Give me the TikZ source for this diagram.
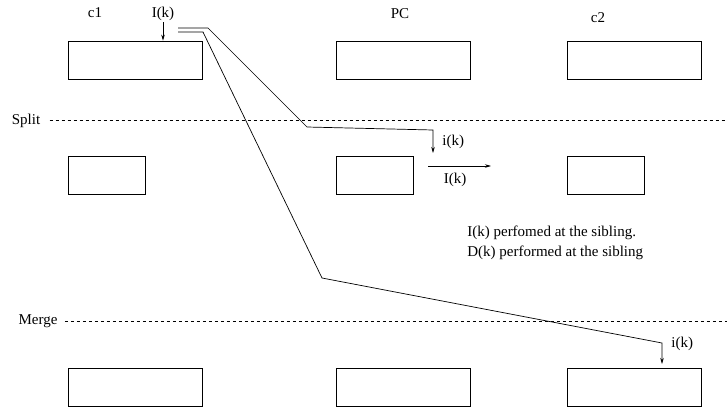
\documentclass[tikz,border=0pt]{standalone}
\usepackage{fontspec}
\setmainfont{Liberation Serif}
\usetikzlibrary{arrows.meta,positioning}

\tikzset{
  blk/.style={draw, minimum width=134pt, minimum height=38pt, inner sep=0pt},
  sblk/.style={draw, minimum width=77pt, minimum height=38pt, inner sep=0pt},
  lbl/.style={inner sep=1pt, font=\fontsize{15}{18}\selectfont},
  arr/.style={-{Stealth[length=6pt,width=3.5pt]}},
}

\begin{document}
\begin{tikzpicture}[x=1pt,y=-1pt,line width=0.7pt]
      \useasboundingbox (0,0) rectangle (727,412);

      % rows of blocks
      \node[blk]  (c1top) at (135,60) {};
      \node[blk]  (pctop) at (403.5,60) {};
      \node[blk]  (c2top) at (634,60) {};
      \node[sblk] (c1mid) at (106.5,175) {};
      \node[sblk] (pcmid) at (374.5,175) {};
      \node[sblk] (c2mid) at (605.5,175) {};
      \node[blk]  (c1bot) at (135,387) {};
      \node[blk]  (pcbot) at (403.5,387) {};
      \node[blk]  (c2bot) at (634,387) {};

      % column names
      \node[lbl] (c1) at (95,13) {c1};
      \node[lbl] (pc) at (400,14) {PC};
      \node[lbl] (c2) at (598,18) {c2};

      % split and merge lines
      \node[lbl] (split) at (26,121) {Split};
      \coordinate (splitend) at (727,120);
      \draw[dashed] (split.east |- splitend) ++(8,0) -- (splitend);
      \node[lbl] (merge) at (38,321) {Merge};
      \coordinate (mergeend) at (727,321);
      \draw[dashed] (merge.east |- mergeend) ++(6,0) -- (mergeend);

      % insert at c1
      \node[lbl] (ik) at (163,14) {I(k)};
      \draw[arr] (ik.south) -- (ik.south |- c1top.north);

      % to the sibling at the split
      \coordinate (a1) at (178,28);
      \coordinate (a2) at (208,28);
      \coordinate (a3) at (307,127);
      \coordinate (a4) at (433,130);
      \coordinate (a5) at (433,153);
      \draw[arr] (a1) -- (a2) -- (a3) -- (a4) -- (a5);
      \node[lbl, right=8pt of a4, yshift=-12pt] (ika) {i(k)};

      % to the sibling at the merge
      \coordinate (b1) at (178,32);
      \coordinate (b2) at (203,32);
      \coordinate (b3) at (322,278);
      \coordinate (b4) at (662,343);
      \coordinate (b5) at (662,364);
      \draw[arr] (b1) -- (b2) -- (b3) -- (b4) -- (b5);
      \node[lbl, right=8pt of b4, yshift=-1pt] (ikb) {i(k)};

      % moved on
      \coordinate (m1) at (428,166);
      \coordinate (m2) at (491,166);
      \draw[arr] (m1) -- (m2);
      \node[lbl] (ikm) at (455,180) {I(k)};

      % notes
      \node[lbl, anchor=west] (note1) at (466,233) {I(k) perfomed at the sibling.};
      \node[lbl, anchor=west] (note2) at (466,253) {D(k) performed at the sibling};
\end{tikzpicture}
\end{document}
